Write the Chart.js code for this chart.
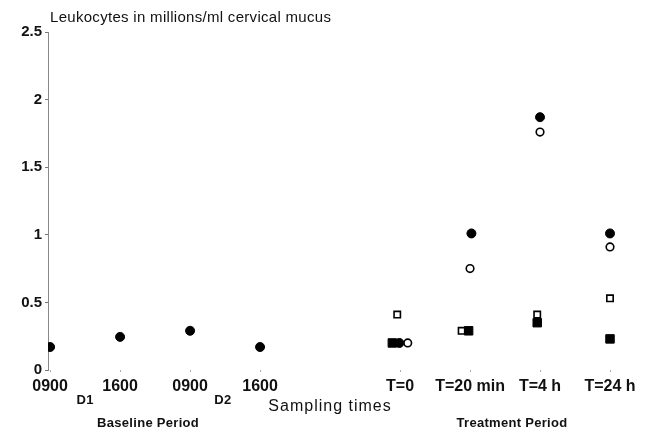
<!DOCTYPE html>
<html>
<head>
<meta charset="utf-8">
<script src="https://cdn.jsdelivr.net/npm/chart.js@4"></script>
<style>
  html, body { margin: 0; padding: 0; background: #fff; }
  #wrap { width: 645px; height: 431px; }
</style>
</head>
<body>
<div id="wrap"><canvas id="leukoChart"></canvas></div>
<script>
// x positions of the sampling times (gap between D2 and treatment)
const tickPositions = [0, 1, 2, 3, 5, 6, 7, 8];
const tickLabels = ['0900', '1600', '0900', '1600', 'T=0', 'T=20 min', 'T=4 h', 'T=24 h'];
const yTicks = [0, 0.5, 1, 1.5, 2, 2.5];

const baselineX = [0, 1, 2, 3];
const baselineValues = [0.17, 0.245, 0.29, 0.17];

const filledCircleX = [4.99, 6.02, 7, 8];
const filledCircleValues = [0.2, 1.01, 1.87, 1.01];

const openCircleX = [5.11, 6, 7, 8];
const openCircleValues = [0.2, 0.75, 1.76, 0.91];

const openSquareX = [4.96, 5.88, 6.96, 8];
const openSquareValues = [0.41, 0.29, 0.41, 0.53];

const filledSquareX = [4.89, 5.98, 6.96, 8];
const filledSquareValues = [0.2, 0.29, 0.35, 0.23];

const titleText = 'Leukocytes in millions/ml cervical mucus';
const xTitle = 'Sampling times';
const dayLabels = [{ text: 'D1', at: 0.5 }, { text: 'D2', at: 2.47 }];
const periodLabels = [{ text: 'Baseline Period', at: 1.4 }, { text: 'Treatment Period', at: 6.6 }];

function toPoints(xs, ys) {
    return xs.map((x, i) => ({ x: x, y: ys[i] }));
}

const textPlugin = {
    id: 'figureText',
    afterDraw(chart) {
        const ctx = chart.ctx;
        const xs = chart.scales.x;
        ctx.save();
        ctx.fillStyle = '#111';
        if ('letterSpacing' in ctx) ctx.letterSpacing = '0.3px';
        ctx.font = '15px "Liberation Sans", Arial, sans-serif';
        ctx.textAlign = 'left';
        ctx.textBaseline = 'alphabetic';
        ctx.fillText(titleText, 50, 22);

        ctx.textAlign = 'center';
        ctx.textBaseline = 'middle';
        ctx.font = 'bold 13px "Liberation Sans", Arial, sans-serif';
        dayLabels.forEach(d => ctx.fillText(d.text, xs.getPixelForValue(d.at), 400));
        periodLabels.forEach(d => ctx.fillText(d.text, xs.getPixelForValue(d.at), 423));

        if ('letterSpacing' in ctx) ctx.letterSpacing = '1px';
        ctx.font = '16px "Liberation Sans", Arial, sans-serif';
        ctx.fillText(xTitle, xs.getPixelForValue(4.0), 407);
        ctx.restore();
    }
};

const ctx = document.getElementById('leukoChart').getContext('2d');
new Chart(ctx, {
    type: 'scatter',
    data: {
        datasets: [{
            label: 'Baseline',
            data: toPoints(baselineX, baselineValues),
            pointStyle: 'circle',
            pointRadius: 4.5,
            backgroundColor: '#000',
            borderColor: '#000',
            borderWidth: 1
        }, {
            label: 'Filled square',
            data: toPoints(filledSquareX, filledSquareValues),
            pointStyle: 'rect',
            pointRadius: 6,
            backgroundColor: '#000',
            borderColor: '#000',
            borderWidth: 1
        }, {
            label: 'Filled circle',
            data: toPoints(filledCircleX, filledCircleValues),
            pointStyle: 'circle',
            pointRadius: 4.5,
            backgroundColor: '#000',
            borderColor: '#000',
            borderWidth: 1
        }, {
            label: 'Open circle',
            data: toPoints(openCircleX, openCircleValues),
            pointStyle: 'circle',
            pointRadius: 3.8,
            backgroundColor: '#fff',
            borderColor: '#000',
            borderWidth: 1.6
        }, {
            label: 'Open square',
            data: toPoints(openSquareX, openSquareValues),
            pointStyle: 'rect',
            pointRadius: 4.5,
            backgroundColor: '#fff',
            borderColor: '#000',
            borderWidth: 1.6
        }]
    },
    options: {
        responsive: true,
        maintainAspectRatio: false,
        animation: false,
        layout: {
            padding: { top: 32, right: 14, bottom: 0, left: 0 }
        },
        scales: {
            x: {
                type: 'linear',
                min: -0.03,
                max: 8.3,
                afterFit: scale => { scale.height = 61; },
                afterBuildTicks: scale => {
                    scale.ticks = tickPositions.map(v => ({ value: v }));
                },
                border: { display: false },
                grid: {
                    drawOnChartArea: false,
                    drawTicks: true,
                    tickLength: 2,
                    color: '#aaa'
                },
                ticks: {
                    autoSkip: false,
                    maxRotation: 0,
                    padding: 5,
                    color: '#111',
                    font: { family: '"Liberation Sans", Arial, sans-serif', size: 16, weight: 'bold' },
                    callback: value => tickLabels[tickPositions.indexOf(value)]
                }
            },
            y: {
                min: 0,
                max: 2.5,
                afterFit: scale => { scale.width = 48; },
                afterBuildTicks: scale => {
                    scale.ticks = yTicks.map(v => ({ value: v }));
                },
                border: { display: true, color: '#888', width: 1 },
                grid: {
                    drawOnChartArea: false,
                    drawTicks: true,
                    tickLength: 3,
                    color: '#777'
                },
                ticks: {
                    padding: 3,
                    color: '#111',
                    font: { family: '"Liberation Sans", Arial, sans-serif', size: 15, weight: 'bold' },
                    callback: value => String(value)
                }
            }
        },
        plugins: {
            legend: { display: false },
            tooltip: { enabled: false },
            title: { display: false }
        }
    },
    plugins: [textPlugin]
});
</script>
</body>
</html>
